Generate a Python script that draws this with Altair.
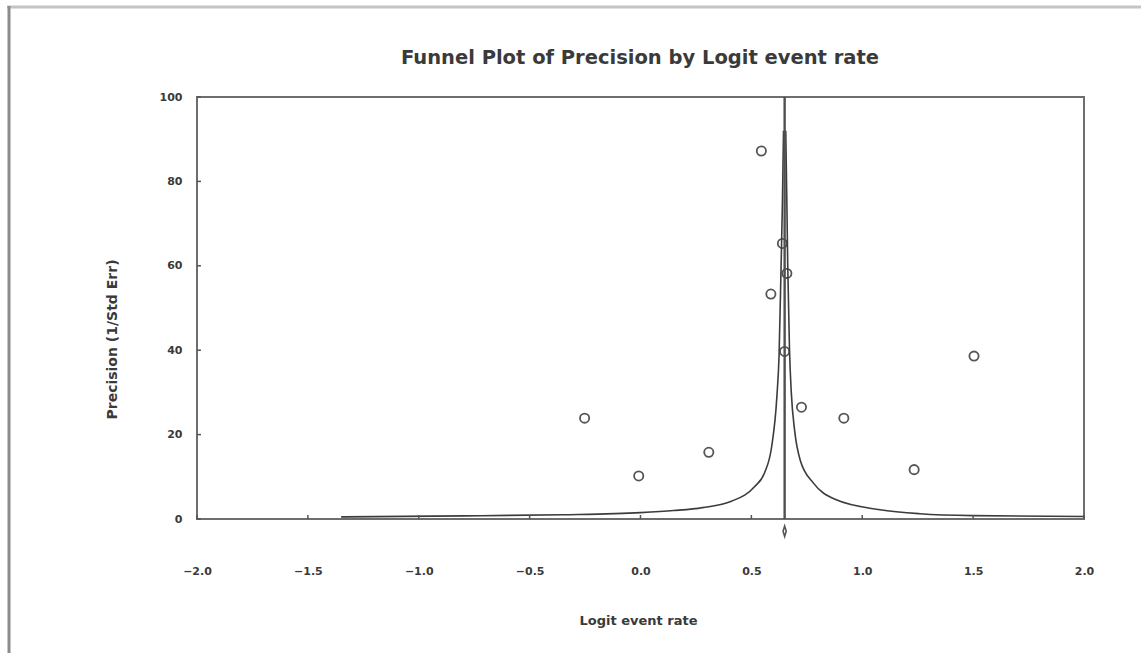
import altair as alt
import pandas as pd

# ---- data ----
study_x = [0.545, 0.588, -0.252, -0.008, 0.308, 0.726, 0.917, 1.234, 1.504, 0.640, 0.660, 0.650]
study_y = [87.2, 53.3, 23.9, 10.2, 15.8, 26.5, 23.9, 11.7, 38.6, 65.3, 58.2, 39.7]

summary_x = [0.65]
summary_y = [-2.9]

center_x = 0.65

funnel_left_x = [-1.35, -0.80, -0.35, 0.00, 0.15, 0.28, 0.41, 0.515, 0.56, 0.591, 0.615, 0.625, 0.634, 0.640, 0.645]
funnel_left_y = [0.5, 0.75, 1.0, 1.5, 2.0, 2.7, 4.2, 7.7, 11, 17, 29, 39, 60, 75, 92]
funnel_right_x = [2.00, 1.50, 1.26, 1.08, 0.88, 0.78, 0.72, 0.695, 0.68, 0.672, 0.664, 0.660, 0.655]
funnel_right_y = [0.6, 0.8, 1.25, 2.2, 4.6, 8.5, 14, 21, 30, 40, 60, 75, 92]

x_ticks = [-2.0, -1.5, -1.0, -0.5, 0.0, 0.5, 1.0, 1.5, 2.0]
y_ticks = [0, 20, 40, 60, 80, 100]

TITLE = "Funnel Plot of Precision by Logit event rate"
X_TITLE = "Logit event rate"
Y_TITLE = "Precision (1/Std Err)"

W, H = 887, 422
FONT = "DejaVu Sans"
TXT = "#3a3a3a"

studies = pd.DataFrame({"x": study_x, "y": study_y})
summary = pd.DataFrame({"x": summary_x, "y": summary_y})
funnel = pd.DataFrame({
    "x": funnel_left_x + funnel_right_x,
    "y": funnel_left_y + funnel_right_y,
    "side": ["left"] * len(funnel_left_x) + ["right"] * len(funnel_right_x),
})
center = pd.DataFrame({"x": [center_x], "y0": [0], "y1": [100]})
xt = pd.DataFrame({"v": x_ticks})
yt = pd.DataFrame({"v": y_ticks})
one = pd.DataFrame({"t": [TITLE]})

xscale = alt.Scale(domain=[-2, 2], nice=False, zero=False)
yscale = alt.Scale(domain=[0, 100], nice=False, zero=False)

xaxis = alt.Axis(
    values=x_ticks, format=".1f", title=X_TITLE, grid=False, domain=False,
    ticks=False, tickSize=0, labelPadding=46, labelFont=FONT, labelFontSize=11,
    labelFontWeight="bold", labelColor=TXT, titleFont=FONT, titleFontSize=13,
    titleFontWeight="bold", titleColor=TXT, titleX=441, titleY=101,
    titleAlign="center", titleBaseline="middle", labelFlush=False,
)
yaxis = alt.Axis(
    values=y_ticks, format="d", title=Y_TITLE, grid=False, domain=False,
    ticks=False, tickSize=0, labelPadding=15, labelFont=FONT, labelFontSize=11,
    labelFontWeight="bold", labelColor=TXT, titleFont=FONT, titleFontSize=14,
    titleFontWeight="bold", titleColor=TXT, titleX=-85, titleY=242,
    titleAngle=270, titleAlign="center", titleBaseline="middle", labelFlush=False,
)

base_x = alt.X("x:Q", scale=xscale, axis=xaxis)
base_y = alt.Y("y:Q", scale=yscale, axis=yaxis)

funnel_layer = alt.Chart(funnel).mark_line(
    color="#3c3c3c", strokeWidth=1.6, interpolate="monotone"
).encode(x=base_x, y=base_y, detail="side:N", order="x:Q")

center_layer = alt.Chart(center).mark_rule(color="#505050", strokeWidth=2.4).encode(
    x=alt.X("x:Q", scale=xscale), y=alt.Y("y0:Q", scale=yscale), y2="y1:Q"
)

points_layer = alt.Chart(studies).mark_point(
    shape="circle", filled=False, color="#555555", size=85, strokeWidth=1.8, opacity=1
).encode(x=base_x, y=base_y)

diamond_layer = alt.Chart(summary).mark_point(
    shape="M0,-1L0.3,0L0,1L-0.3,0Z", filled=False, color="#555555", size=110,
    strokeWidth=1.6, opacity=1
).encode(x=base_x, y=base_y)

xtick_layer = alt.Chart(xt).mark_rule(color="#555555", strokeWidth=1.5).encode(
    x=alt.X("v:Q", scale=xscale), y=alt.value(H), y2=alt.value(H - 4)
)
ytick_layer = alt.Chart(yt).mark_rule(color="#555555", strokeWidth=1.5).encode(
    y=alt.Y("v:Q", scale=yscale), x=alt.value(0), x2=alt.value(4)
)

frame_top = alt.Chart(one).mark_rule(color="#c4c4c4", strokeWidth=3).encode(
    x=alt.value(-190), x2=alt.value(960), y=alt.value(-90)
)
frame_left = alt.Chart(one).mark_rule(color="#8c8c8c", strokeWidth=3).encode(
    x=alt.value(-188), y=alt.value(-91), y2=alt.value(560)
)

title_layer = alt.Chart(one).mark_text(
    font=FONT, fontSize=19.5, fontWeight="bold", color=TXT, align="center",
    baseline="middle"
).encode(text="t:N", x=alt.value(443), y=alt.value(-39))

chart = alt.layer(
    frame_top, frame_left, points_layer, funnel_layer, center_layer, xtick_layer,
    ytick_layer, diamond_layer, title_layer,
).properties(
    width=W, height=H,
    autosize=alt.AutoSizeParams(type="none"),
    padding={"left": 197, "top": 97, "right": 57, "bottom": 134},
    background="white",
).configure_view(stroke="#6e6e6e", strokeWidth=2)

chart.save("out.html", embed_options={"renderer": "svg", "actions": False})
